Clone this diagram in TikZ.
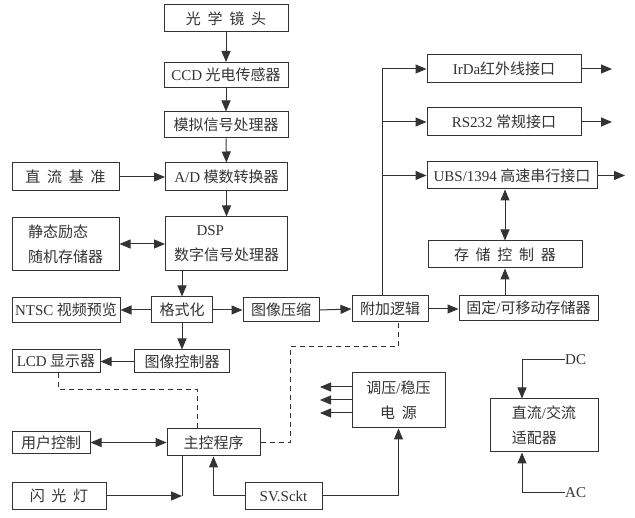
\documentclass[tikz,border=0pt]{standalone}
\usepackage{fontspec}
\setmainfont{Noto Sans CJK SC}
\newfontfamily\latf{Liberation Serif}
\newcommand\latn[1]{{\latf #1}}
\newcommand\gap{\hspace{0.45em}}
\newcommand\slsh{{\latf /}}
\usetikzlibrary{arrows.meta}
\definecolor{lc}{HTML}{333333}
\begin{document}
\begin{tikzpicture}[x=1pt,y=-1pt,
  ln/.style={draw=lc, line width=1pt},
  box/.style={ln, rectangle, inner sep=0pt, text=lc, align=center, font=\fontsize{15}{25}\selectfont},
  lbl/.style={inner sep=0pt, text=lc, font=\latf\fontsize{15}{17}\selectfont},
  arr/.style={ln, -{Triangle[length=11pt,width=9pt]}},
  darr/.style={ln, {Triangle[length=11pt,width=9pt]}-{Triangle[length=11pt,width=9pt]}},
  dsh/.style={ln, dash pattern=on 5pt off 4pt}]
\useasboundingbox[fill=white] (0,0) rectangle (635,518);
% left column
\node[box, minimum width=124pt, minimum height=27pt] (lens) at (226,18.5) {光\gap{}学\gap{}镜\gap{}头};
\node[box, minimum width=124pt, minimum height=25pt] (ccd) at (226,75) {\latn{CCD} 光电传感器};
\node[box, minimum width=124pt, minimum height=26pt] (ana) at (226,125) {模拟信号处理器};
\node[box, minimum width=122pt, minimum height=28pt] (ad) at (226.5,177) {\latn{A/D} 模数转换器};
\node[box, minimum width=107pt, minimum height=28pt] (dcref) at (65.5,177) {直\gap{}流\gap{}基\gap{}准};
\node[box, minimum width=107pt, minimum height=53pt, align=left] (ram) at (65.5,244) {静态励态\\随机存储器};
\node[box, minimum width=122pt, minimum height=54pt, align=left] (dsp) at (226.5,244) {\hspace*{1.5em}\latn{DSP}\\数字信号处理器};
\node[box, minimum width=61pt, minimum height=26pt] (fmt) at (182,310) {格式化};
\node[box, minimum width=108pt, minimum height=25pt] (ntsc) at (66,310) {\latn{NTSC} 视频预览};
\node[box, minimum width=76pt, minimum height=24pt] (comp) at (281,310) {图像压缩};
\node[box, minimum width=88pt, minimum height=23pt] (lcd) at (56,361.5) {\latn{LCD} 显示器};
\node[box, minimum width=95pt, minimum height=23pt] (imgc) at (182,361.5) {图像控制器};
\node[box, minimum width=78pt, minimum height=22pt] (user) at (51,442.5) {用户控制};
\node[box, minimum width=93pt, minimum height=27pt] (main) at (213.5,442.5) {主控程序};
\node[box, minimum width=94pt, minimum height=27pt] (flash) at (59,496) {闪\gap{}光\gap{}灯};
\node[box, minimum width=77pt, minimum height=27pt] (sv) at (283.5,496) {\latn{SV.Sckt}};
% right column
\node[box, minimum width=154pt, minimum height=28pt] (irda) at (504,69) {\latn{IrDa}红外线接口};
\node[box, minimum width=154pt, minimum height=28pt] (rs) at (504,122) {\latn{RS232} 常规接口};
\node[box, minimum width=170pt, minimum height=27pt] (ubs) at (512,175.5) {\latn{UBS/1394} 高速串行接口};
\node[box, minimum width=154pt, minimum height=27pt] (stor) at (505,254.5) {存\gap{}储\gap{}控\gap{}制\gap{}器};
\node[box, minimum width=76pt, minimum height=26pt] (addl) at (390,309) {附加逻辑};
\node[box, minimum width=139pt, minimum height=25pt] (fixed) at (528.5,308) {固定\slsh{}可移动存储器};
\node[box, minimum width=93pt, minimum height=55pt] (power) at (398.5,400.5) {调压\slsh{}稳压\\电\gap{}源};
\node[box, minimum width=108pt, minimum height=53pt, align=left] (adp) at (544,425.5) {直流\slsh{}交流\\适配器};
\node[lbl, anchor=west] (dc) at (565,360) {DC};
\node[lbl, anchor=west] (ac) at (565,493) {AC};
% coordinates
\coordinate (bt) at (382,69);
\coordinate (o1) at (612,69);
\coordinate (o2) at (612,122);
\coordinate (o3) at (625,175.5);
\coordinate (d1) at (58,390);
\coordinate (d2) at (197,390);
\coordinate (d3) at (290,442.5);
\coordinate (d4) at (290,347);
\coordinate (d5) at (398,347);
\coordinate (fj) at (182,496);
\coordinate (p1) at (320,387);
\coordinate (p2) at (320,400);
\coordinate (p3) at (320,413);
\coordinate (dcl) at (522,360);
\coordinate (acl) at (522,493);
% connectors
\draw[arr] (lens) -- (ccd);
\draw[arr] (ccd) -- (ana);
\draw[arr] (ana) -- (ad);
\draw[arr] (dcref) -- (ad);
\draw[arr] (ad) -- (dsp);
\draw[darr] (ram) -- (dsp);
\draw[arr] (fmt |- dsp.south) -- (fmt.north);
\draw[arr] (fmt) -- (ntsc);
\draw[arr] (fmt) -- (comp);
\draw[arr] (fmt) -- (imgc);
\draw[arr] (imgc) -- (lcd);
\draw[arr] (comp.east) -- (addl.west);
\draw[arr] (addl.east) -- (addl.east -| fixed.west);
\draw[arr] (stor |- fixed.north) -- (stor.south);
\draw[darr] (stor.north) -- (stor.north |- ubs.south);
\draw[ln] (bt |- addl.north) -- (bt);
\draw[arr] (bt) -- (irda.west);
\draw[arr] (bt |- rs.west) -- (rs.west);
\draw[arr] (bt |- ubs.west) -- (ubs.west);
\draw[arr] (irda.east) -- (o1);
\draw[arr] (rs.east) -- (o2);
\draw[arr] (ubs.east) -- (o3);
\draw[dsh] (lcd.south -| d1) -- (d1) -- (d2) -- (d2 |- main.north);
\draw[dsh] (main.east) -- (d3) -- (d4) -- (d5) -- (d5 |- addl.south);
\draw[darr] (user) -- (main);
\draw[ln] (fj |- main.south) -- (fj);
\draw[arr] (flash.east) -- (fj);
\draw[arr] (sv.west) -| (main.south);
\draw[arr] (sv.east) -| (power.south);
\draw[arr] (p1 -| power.west) -- (p1);
\draw[arr] (p2 -| power.west) -- (p2);
\draw[arr] (p3 -| power.west) -- (p3);
\draw[arr] (dc.west) -- (dcl) -- (dcl |- adp.north);
\draw[arr] (ac.west) -- (acl) -- (acl |- adp.south);
\end{tikzpicture}
\end{document}
